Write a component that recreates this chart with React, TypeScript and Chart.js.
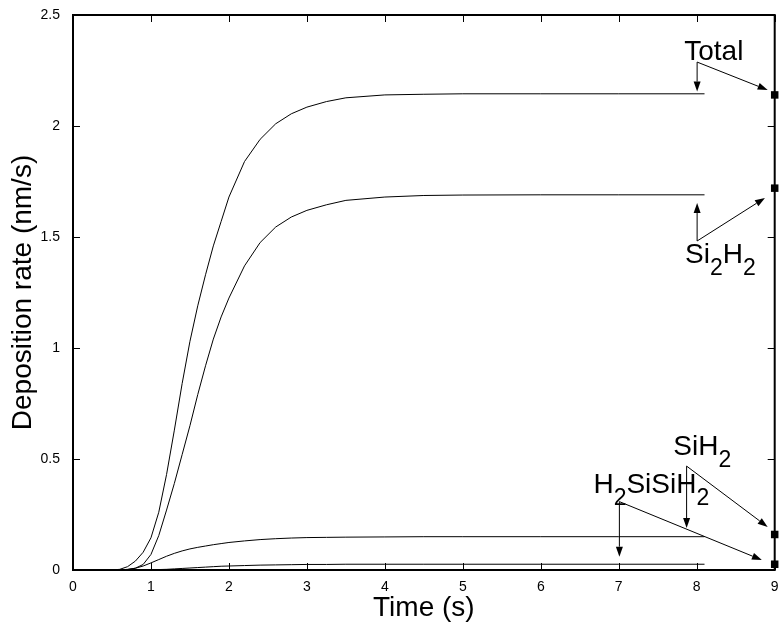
import React, { useEffect, useRef } from "react";
import { Chart, registerables } from "chart.js";

Chart.register(...registerables);

// ---- data ----
const TIME = [0, 0.5, 0.6, 0.7, 0.8, 0.9, 1.0, 1.1, 1.2, 1.3, 1.4, 1.5, 1.6, 1.7, 1.8, 1.9, 2.0, 2.2, 2.4, 2.6, 2.8, 3.0, 3.25, 3.5, 4.0, 4.5, 5.0, 6.0, 7.0, 8.1];
const TOTAL = [0, 0, 0.003, 0.015, 0.04, 0.08, 0.145, 0.26, 0.43, 0.63, 0.84, 1.03, 1.19, 1.33, 1.46, 1.57, 1.68, 1.84, 1.94, 2.01, 2.055, 2.085, 2.11, 2.127, 2.14, 2.143, 2.145, 2.145, 2.145, 2.145];
const SI2H2 = [0, 0, 0, 0.003, 0.008, 0.025, 0.07, 0.155, 0.27, 0.39, 0.52, 0.65, 0.79, 0.92, 1.04, 1.14, 1.225, 1.37, 1.475, 1.545, 1.59, 1.62, 1.645, 1.665, 1.68, 1.687, 1.689, 1.69, 1.69, 1.69];
const SIH2 = [0, 0, 0, 0.002, 0.008, 0.018, 0.032, 0.047, 0.062, 0.075, 0.086, 0.095, 0.102, 0.108, 0.114, 0.119, 0.124, 0.131, 0.137, 0.141, 0.144, 0.146, 0.147, 0.148, 0.149, 0.15, 0.15, 0.15, 0.15, 0.15];
const H2SISIH2 = [0, 0, 0, 0, 0, 0, 0.001, 0.002, 0.003, 0.005, 0.007, 0.009, 0.011, 0.013, 0.015, 0.017, 0.018, 0.02, 0.022, 0.023, 0.024, 0.025, 0.025, 0.026, 0.026, 0.026, 0.026, 0.026, 0.026, 0.026];

const END_TIME = [9, 9, 9, 9];
const END_VALUES = [2.14, 1.72, 0.16, 0.026];

const X_TICKS = [0, 1, 2, 3, 4, 5, 6, 7, 8, 9];
const Y_TICKS = [0, 0.5, 1, 1.5, 2, 2.5];
const Y_TICK_LABELS = ["0", "0.5", "1", "1.5", "2", "2.5"];

const X_TITLE = "Time (s)";
const Y_TITLE = "Deposition rate (nm/s)";

// ---- annotations (data coordinates) ----
type Seg = { t: string; sub?: boolean };
const ANNOTATIONS: { text: Seg[]; at: [number, number]; from: [number, number]; to: [number, number][] }[] = [
  { text: [{ t: "Total" }], at: [7.84, 2.297], from: [8.005, 2.288], to: [[8.005, 2.155], [8.91, 2.162]] },
  { text: [{ t: "Si" }, { t: "2", sub: true }, { t: "H" }, { t: "2", sub: true }], at: [7.85, 1.381], from: [8.005, 1.482], to: [[8.005, 1.653], [8.875, 1.676]] },
  { text: [{ t: "SiH" }, { t: "2", sub: true }], at: [7.7, 0.518], from: [7.87, 0.468], to: [[7.87, 0.189], [8.91, 0.194]] },
  { text: [{ t: "H" }, { t: "2", sub: true }, { t: "SiSiH" }, { t: "2", sub: true }], at: [6.675, 0.345], from: [7.008, 0.308], to: [[7.008, 0.06], [8.836, 0.045]] },
];

const FONT = "'Liberation Sans', Arial, Helvetica, sans-serif";

function drawArrow(ctx: CanvasRenderingContext2D, x1: number, y1: number, x2: number, y2: number) {
  const len = 10, half = 3.5;
  const ang = Math.atan2(y2 - y1, x2 - x1);
  const bx = x2 - len * Math.cos(ang), by = y2 - len * Math.sin(ang);
  ctx.beginPath();
  ctx.moveTo(x1, y1);
  ctx.lineTo(bx, by);
  ctx.stroke();
  ctx.beginPath();
  ctx.moveTo(x2, y2);
  ctx.lineTo(bx + half * Math.sin(ang), by - half * Math.cos(ang));
  ctx.lineTo(bx - half * Math.sin(ang), by + half * Math.cos(ang));
  ctx.closePath();
  ctx.fill();
}

const framePlugin = {
  id: "frameAndNotes",
  afterDraw(chart: any) {
    const { ctx, chartArea, scales } = chart;
    const { left, right, top, bottom } = chartArea;
    const xs = scales.x, ys = scales.y;
    ctx.save();
    ctx.strokeStyle = "#000";
    ctx.fillStyle = "#000";
    // inward ticks
    ctx.lineWidth = 1;
    ctx.beginPath();
    for (const v of X_TICKS) {
      const px = Math.round(xs.getPixelForValue(v)) + 0.5;
      ctx.moveTo(px, bottom); ctx.lineTo(px, bottom - 7);
      ctx.moveTo(px, top); ctx.lineTo(px, top + 7);
    }
    for (const v of Y_TICKS) {
      const py = Math.round(ys.getPixelForValue(v)) + 0.5;
      ctx.moveTo(left, py); ctx.lineTo(left + 7, py);
      ctx.moveTo(right, py); ctx.lineTo(right - 7, py);
    }
    ctx.stroke();
    // frame
    ctx.lineWidth = 2;
    ctx.strokeRect(left, top, right - left, bottom - top);

    // annotations
    ctx.lineWidth = 1;
    for (const a of ANNOTATIONS) {
      const fx = xs.getPixelForValue(a.from[0]), fy = ys.getPixelForValue(a.from[1]);
      for (const t of a.to) {
        drawArrow(ctx, fx, fy, xs.getPixelForValue(t[0]), ys.getPixelForValue(t[1]));
      }
      let x = xs.getPixelForValue(a.at[0]);
      const y = ys.getPixelForValue(a.at[1]);
      ctx.textBaseline = "alphabetic";
      ctx.textAlign = "left";
      for (const s of a.text) {
        ctx.font = s.sub ? `23px ${FONT}` : `28px ${FONT}`;
        ctx.fillText(s.t, x, s.sub ? y + 12 : y);
        x += ctx.measureText(s.t).width;
      }
    }
    ctx.restore();
  },
};

export default function App() {
  const ref = useRef<HTMLCanvasElement | null>(null);
  useEffect(() => {
    if (!ref.current) return;
    const mk = (vals: number[]) => TIME.map((t, i) => ({ x: t, y: vals[i] }));
    const lineStyle = { borderColor: "#000", borderWidth: 1, pointRadius: 0, tension: 0, fill: false };
    const chart = new Chart(ref.current, {
      type: "line",
      data: {
        datasets: [
          { label: "Total", data: mk(TOTAL), ...lineStyle },
          { label: "Si2H2", data: mk(SI2H2), ...lineStyle },
          { label: "SiH2", data: mk(SIH2), ...lineStyle },
          { label: "H2SiSiH2", data: mk(H2SISIH2), ...lineStyle },
          {
            label: "end",
            data: END_TIME.map((t, i) => ({ x: t, y: END_VALUES[i] })),
            showLine: false,
            pointStyle: "rect",
            pointRadius: 5.3,
            backgroundColor: "#000",
            borderColor: "#000",
            borderWidth: 0,
            clip: false,
          } as any,
        ],
      },
      options: {
        animation: false,
        responsive: false,
        maintainAspectRatio: false,
        layout: { padding: { top: 15, right: 3, left: 0, bottom: 0 } },
        plugins: { legend: { display: false }, tooltip: { enabled: false } },
        scales: {
          x: {
            type: "linear",
            min: 0,
            max: 9,
            grid: { display: false },
            border: { display: false },
            afterBuildTicks: (s: any) => { s.ticks = X_TICKS.map((v) => ({ value: v })); },
            ticks: {
              color: "#000",
              font: { family: FONT, size: 14 },
              padding: 1,
              maxRotation: 0,
              autoSkip: false,
              callback: (v: any) => String(v),
            },
            title: { display: true, text: X_TITLE, color: "#000", font: { family: FONT, size: 28 }, padding: { top: 0, bottom: 6 } },
            afterFit: (s: any) => { s.height = 61; s.paddingLeft = 0; s.paddingRight = 0; },
          },
          y: {
            type: "linear",
            min: 0,
            max: 2.5,
            grid: { display: false },
            border: { display: false },
            afterBuildTicks: (s: any) => { s.ticks = Y_TICKS.map((v) => ({ value: v })); },
            ticks: {
              color: "#000",
              font: { family: FONT, size: 14 },
              padding: 5,
              autoSkip: false,
              callback: (v: any) => { const i = Y_TICKS.indexOf(Number(v)); return i >= 0 ? Y_TICK_LABELS[i] : ""; },
            },
            title: { display: true, text: Y_TITLE, color: "#000", font: { family: FONT, size: 28 }, padding: { top: 6, bottom: 0 } },
            afterFit: (s: any) => { s.width = 73; s.paddingTop = 0; s.paddingBottom = 0; },
          },
        },
      } as any,
      plugins: [framePlugin],
    });
    return () => chart.destroy();
  }, []);
  return (
    <div style={{ position: "fixed", left: 0, top: 0, width: 780, height: 631, background: "#fff" }}>
      <canvas ref={ref} width={780} height={631} style={{ width: 780, height: 631, display: "block" }} />
    </div>
  );
}
